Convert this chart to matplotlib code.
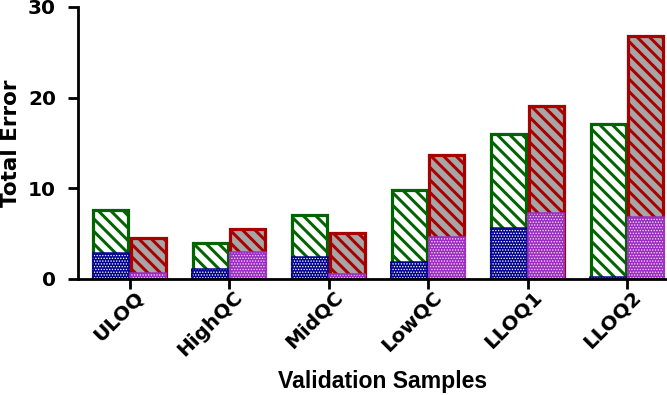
import matplotlib
matplotlib.use("Agg")
import matplotlib.pyplot as plt
import matplotlib.transforms as mtransforms
from matplotlib.font_manager import FontProperties
import numpy as np

categories = ["ULOQ", "HighQC", "MidQC", "LowQC", "LLOQ1", "LLOQ2"]
green_total = [7.6, 4.0, 7.1, 9.8, 16.0, 17.1]
blue_part = [2.85, 1.05, 2.4, 1.9, 5.6, 0.2]
red_total = [4.5, 5.5, 5.1, 13.7, 19.1, 26.8]
purple_part = [0.7, 3.0, 0.5, 4.65, 7.3, 6.8]
yticks = [0, 10, 20, 30]

GREEN = "#006400"
RED = "#a80000"
GRAY = "#a6a6a6"
BLUE = "#000090"
PURPLE = "#9a2cc0"

DPI = 150
def px(p):
    return p * 72.0 / DPI

fig = plt.figure(figsize=(667 / DPI, 395 / DPI), dpi=DPI)
ax = fig.add_axes([78 / 667, 1 - 279 / 395, (667 - 78) / 667, (279 - 7) / 395])

x = np.arange(len(categories))
off = 0.1885
w = 0.35
w_full = 0.38

def set_hlw(patches, lw):
    for p in patches:
        if hasattr(p, "set_hatch_linewidth"):
            p.set_hatch_linewidth(lw)

diag = "\\" * 4
dots = "." * 9

with plt.rc_context({"hatch.linewidth": px(3.0)}):
    b1 = ax.bar(x - off, green_total, width=w, facecolor="white", edgecolor=GREEN,
                hatch=diag, linewidth=px(3.2), zorder=1)
    b2 = ax.bar(x + off, red_total, width=w, facecolor=GRAY, edgecolor=RED,
                hatch=diag, linewidth=px(3.2), zorder=1)
set_hlw(b1, px(3.0)); set_hlw(b2, px(3.0))

with plt.rc_context({"hatch.linewidth": px(0.9)}):
    b3 = ax.bar(x - off, blue_part, width=w_full, facecolor=BLUE, edgecolor="white",
                hatch=dots, linewidth=0, zorder=2)
    b4 = ax.bar(x + off, purple_part, width=w_full, facecolor=PURPLE, edgecolor="#f4dcfa",
                hatch=dots, linewidth=0, zorder=2)
set_hlw(b3, px(0.9)); set_hlw(b4, px(0.9))
ax.bar(x - off, blue_part, width=w_full - 0.015, facecolor="none", edgecolor=BLUE,
       linewidth=px(1.5), zorder=2.1)
ax.bar(x + off, purple_part, width=w_full - 0.015, facecolor="none", edgecolor=PURPLE,
       linewidth=px(1.5), zorder=2.1)

ax.set_xlim(-0.518, 5.402)
ax.set_ylim(0, 30)
ax.set_yticks(yticks)
ax.set_xticks(x)
ax.set_xticklabels(categories)

for s in ["top", "right"]:
    ax.spines[s].set_visible(False)
for s in ["left", "bottom"]:
    ax.spines[s].set_linewidth(px(2.8))
    ax.spines[s].set_zorder(5)

ax.tick_params(axis="both", direction="out", length=px(10), width=px(2.8))
ax.tick_params(axis="y", pad=px(12))
ax.tick_params(axis="x", pad=px(5))

tick_fp = FontProperties(family="DejaVu Sans", weight="bold", size=px(20))
for lab in ax.get_yticklabels():
    lab.set_fontproperties(tick_fp)
shift = mtransforms.ScaledTranslation(11 / DPI, 0, fig.dpi_scale_trans)
for lab in ax.get_xticklabels():
    lab.set_fontproperties(tick_fp)
    lab.set_rotation(45)
    lab.set_ha("right")
    lab.set_va("center")
    lab.set_rotation_mode("anchor")
    lab.set_transform(lab.get_transform() + shift)

fig.text(383 / 667, 1 - 388 / 395, "Validation Samples", ha="center", va="baseline",
         family="Liberation Sans", weight="bold", size=px(23))
fig.text(11 / 667, 1 - 143 / 395, "Total Error", ha="center", va="center", rotation=90,
         family="DejaVu Sans", weight="bold", size=px(21.5))

fig.savefig("out.png", dpi=DPI)
